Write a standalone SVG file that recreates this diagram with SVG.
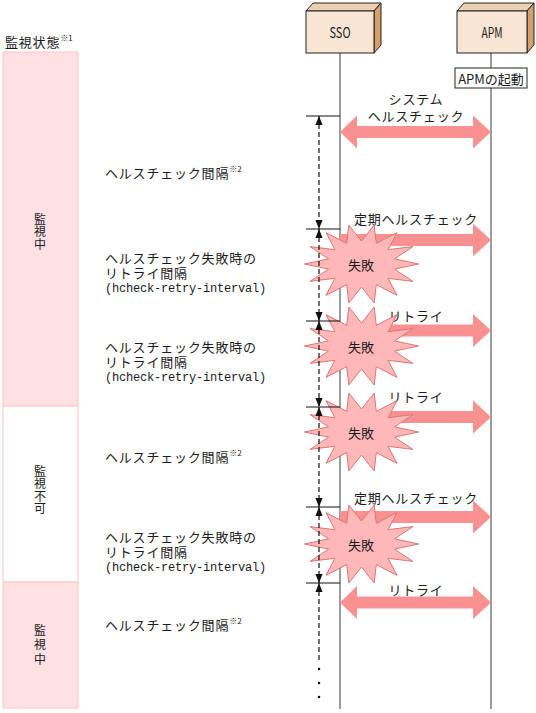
<svg xmlns="http://www.w3.org/2000/svg" width="536" height="713" viewBox="0 0 536 713">
<style>
.t{font-family:"Noto Sans CJK JP","Noto Sans CJK SC",sans-serif;font-size:13px;fill:#1a1a1a;letter-spacing:0.8px;dominant-baseline:central}
.m{font-family:"Liberation Mono",monospace;font-size:12px;letter-spacing:-0.2px}
.sup{font-size:8px;letter-spacing:0}
.v{font-family:"Noto Sans CJK JP",sans-serif;font-size:12px;fill:#1a1a1a;text-anchor:middle;writing-mode:vertical-rl;letter-spacing:0.5px}
.c{text-anchor:middle}
.front{fill:#f9e5d4;stroke:#222;stroke-width:1}
.top{fill:#ecd0b2;stroke:#222;stroke-width:1}
.side{fill:#d3a06c;stroke:#222;stroke-width:1}
.life{stroke:#666;stroke-width:1.3;fill:none}
.state{fill:#ffe1e4;stroke:#ffc3c8;stroke-width:1}
.state0{fill:#fff;stroke:#ffc3c8;stroke-width:1}
.arr{fill:#fa9191}
.star{fill:#ffb7b7;stroke:#df7474;stroke-width:1}
.tick{stroke:#111;stroke-width:1}
.dash{stroke:#111;stroke-width:1.2;stroke-dasharray:5 3;fill:none}
</style>
<defs>
<marker id="ah" viewBox="0 0 10 8" refX="10" refY="4" markerWidth="9" markerHeight="8" markerUnits="userSpaceOnUse" orient="auto-start-reverse">
<path d="M0,0 L10,4 L0,8 Z" fill="#111"/>
</marker>
<path id="arrR" d="M0,-6 H133 V-16.5 L151,0 L133,16.5 V6 H0 Z"/>
<path id="arrD" d="M0,0 L17,-16.5 V-6 H133 V-16.5 L151,0 L133,16.5 V6 H17 V16.5 Z"/>
<polygon id="star" points="57,0 33.1,5.1 51.4,17.4 26.6,14.3 35.5,31.3 14.8,20.7 12.7,39 0,23 -12.7,39 -14.8,20.7 -35.5,31.3 -26.6,14.3 -51.4,17.4 -33.1,5.1 -57,0 -33.1,-5.1 -51.4,-17.4 -26.6,-14.3 -35.5,-31.3 -14.8,-20.7 -12.7,-39 0,-23 12.7,-39 14.8,-20.7 35.5,-31.3 26.6,-14.3 51.4,-17.4 33.1,-5.1"/>
</defs>

<!-- monitoring state column -->
<g id="state-header"><text class="t" x="5" y="41">監視状態<tspan class="sup" dy="-4">※1</tspan></text></g>
<g id="state-1">
<rect class="state" x="3" y="52" width="75" height="354"/>
<text class="v" x="40" y="232">監視中</text>
</g>
<g id="state-2">
<rect class="state0" x="3" y="406" width="75" height="176"/>
<text class="v" x="40" y="490">監視不可</text>
</g>
<g id="state-3">
<rect class="state" x="3" y="582" width="75" height="126"/>
<text class="v" x="40" y="646" style="letter-spacing:2.5px">監視中</text>
</g>

<!-- interval labels -->
<g id="label-1"><text class="t" x="105" y="172">ヘルスチェック間隔<tspan class="sup" dy="-4">※2</tspan></text></g>
<g id="label-2"><text class="t"><tspan x="105" y="257">ヘルスチェック失敗時の</tspan><tspan x="105" y="272">リトライ間隔</tspan><tspan class="m" x="105" y="289">(hcheck-retry-interval)</tspan></text></g>
<g id="label-3"><text class="t"><tspan x="105" y="346">ヘルスチェック失敗時の</tspan><tspan x="105" y="361">リトライ間隔</tspan><tspan class="m" x="105" y="378">(hcheck-retry-interval)</tspan></text></g>
<g id="label-4"><text class="t" x="105" y="456">ヘルスチェック間隔<tspan class="sup" dy="-4">※2</tspan></text></g>
<g id="label-5"><text class="t"><tspan x="105" y="536">ヘルスチェック失敗時の</tspan><tspan x="105" y="551">リトライ間隔</tspan><tspan class="m" x="105" y="568">(hcheck-retry-interval)</tspan></text></g>
<g id="label-6"><text class="t" x="105" y="624">ヘルスチェック間隔<tspan class="sup" dy="-4">※2</tspan></text></g>

<!-- lifelines -->
<g id="lifelines">
<line class="life" x1="340" y1="53" x2="340" y2="709"/>
<line class="life" x1="491" y1="53" x2="491" y2="68"/>
<line class="life" x1="491" y1="88" x2="491" y2="709"/>
</g>

<!-- nodes -->
<g id="sso">
<polygon class="top" points="306,11 313,3 381,3 374,11"/>
<polygon class="side" points="374,11 381,3 381,45 374,53"/>
<rect class="front" x="306" y="11" width="68" height="42"/>
<text class="t c" x="340" y="32" style="font-size:14px;letter-spacing:0" textLength="21" lengthAdjust="spacingAndGlyphs">SSO</text>
</g>
<g id="apm">
<polygon class="top" points="457,11 464,3 534,3 527,11"/>
<polygon class="side" points="527,11 534,3 534,45 527,53"/>
<rect class="front" x="457" y="11" width="70" height="42"/>
<text class="t c" x="492" y="32" style="font-size:14px;letter-spacing:0" textLength="21" lengthAdjust="spacingAndGlyphs">APM</text>
</g>
<g id="apm-start">
<rect x="455" y="68" width="72" height="20" fill="#fff" stroke="#222" stroke-width="1"/>
<text class="t c" x="491" y="78" style="letter-spacing:0">APMの起動</text>
</g>

<!-- messages -->
<g id="connectors">
<use href="#arrD" class="arr" transform="translate(340,132)"/>
<text class="t c" x="416" y="98">システム</text>
<text class="t c" x="416" y="115">ヘルスチェック</text>
<use href="#arrR" class="arr" transform="translate(340,240)"/>
<text class="t c" x="416" y="218">定期ヘルスチェック</text>
<use href="#arrR" class="arr" transform="translate(340,330.5)"/>
<text class="t c" x="416" y="315">リトライ</text>
<use href="#arrR" class="arr" transform="translate(340,417)"/>
<text class="t c" x="416" y="396">リトライ</text>
<use href="#arrR" class="arr" transform="translate(340,517)"/>
<text class="t c" x="416" y="497">定期ヘルスチェック</text>
<use href="#arrD" class="arr" transform="translate(340,602.5)"/>
<text class="t c" x="416" y="589">リトライ</text>
</g>

<!-- failures -->
<g id="fail-1"><use href="#star" class="star" transform="translate(361.5,264)"/><text class="t c" x="361" y="264" style="letter-spacing:0">失敗</text></g>
<g id="fail-2"><use href="#star" class="star" transform="translate(361.5,346)"/><text class="t c" x="361" y="346" style="letter-spacing:0">失敗</text></g>
<g id="fail-3"><use href="#star" class="star" transform="translate(361.5,432)"/><text class="t c" x="361" y="432" style="letter-spacing:0">失敗</text></g>
<g id="fail-4"><use href="#star" class="star" transform="translate(361.5,544)"/><text class="t c" x="361" y="544" style="letter-spacing:0">失敗</text></g>

<!-- interval markers -->
<g id="intervals">
<line class="tick" x1="306" y1="116" x2="340" y2="116"/>
<line class="tick" x1="306" y1="229" x2="340" y2="229"/>
<line class="tick" x1="306" y1="321" x2="340" y2="321"/>
<line class="tick" x1="306" y1="407" x2="340" y2="407"/>
<line class="tick" x1="306" y1="507" x2="340" y2="507"/>
<line class="tick" x1="306" y1="583" x2="340" y2="583"/>
<line class="dash" x1="319" y1="116" x2="319" y2="229" marker-start="url(#ah)" marker-end="url(#ah)"/>
<line class="dash" x1="319" y1="229" x2="319" y2="321" marker-start="url(#ah)" marker-end="url(#ah)"/>
<line class="dash" x1="319" y1="321" x2="319" y2="407" marker-start="url(#ah)" marker-end="url(#ah)"/>
<line class="dash" x1="319" y1="407" x2="319" y2="507" marker-start="url(#ah)" marker-end="url(#ah)"/>
<line class="dash" x1="319" y1="507" x2="319" y2="583" marker-start="url(#ah)" marker-end="url(#ah)"/>
<line class="dash" x1="319" y1="583" x2="319" y2="660" marker-start="url(#ah)"/>
<circle cx="319" cy="669" r="1.3" fill="#111"/>
<circle cx="319" cy="683" r="1.3" fill="#111"/>
<circle cx="319" cy="697" r="1.3" fill="#111"/>
</g>
</svg>
